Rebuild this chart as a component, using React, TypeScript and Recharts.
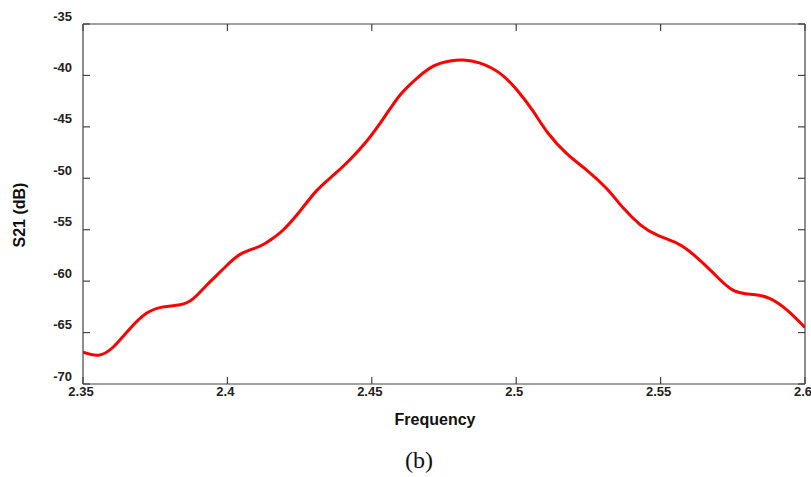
import React from 'react';
import { LineChart, Line, XAxis, YAxis } from 'recharts';

const freq = [
    2.35, 2.3553, 2.3605, 2.3663, 2.3721, 2.3778, 2.3836, 2.3882, 2.3928, 2.3986,
    2.4044, 2.4113, 2.4159, 2.4194, 2.4251, 2.4309, 2.4367, 2.4424, 2.4482, 2.454,
    2.4598, 2.4655, 2.4713, 2.4771, 2.4817, 2.4875, 2.4944, 2.5002, 2.5059, 2.511,
    2.5175, 2.5244, 2.5313, 2.5371, 2.5429, 2.5487, 2.5556, 2.5613, 2.5682, 2.5752,
    2.5821, 2.5879, 2.5937, 2.6,
];
const s21 = [
    -66.9, -67.2, -66.4, -64.6, -63.1, -62.5, -62.3, -61.7, -60.4, -58.8,
    -57.4, -56.6, -55.8, -55.0, -53.2, -51.2, -49.7, -48.2, -46.4, -44.2,
    -41.9, -40.3, -39.1, -38.6, -38.5, -38.8, -39.8, -41.4, -43.5, -45.6,
    -47.6, -49.2, -51.0, -52.9, -54.5, -55.5, -56.3, -57.4, -59.2, -60.9,
    -61.3, -61.7, -62.8, -64.5,
];
const xTicks = [2.35, 2.4, 2.45, 2.5, 2.55, 2.6];
const yTicks = [-70, -65, -60, -55, -50, -45, -40, -35];

const data = freq.map((f, i) => ({ f, v: s21[i] }));

const FONT = '"Liberation Sans", Arial, sans-serif';
const AXIS = '#444';
const TICK_LEN = 7;

// left axis: label sits a bit above the tick, tick mark points inward
const LeftTick = ({ x, y, payload }: any) => (
    <g>
        <text x={x} y={y - 8} dy="0.355em" textAnchor="end" fontFamily={FONT} fontWeight="bold" fontSize={13} fill="#222">
            {payload.value}
        </text>
        <line x1={x + 11} x2={x + 11 + TICK_LEN} y1={y} y2={y} stroke={AXIS} strokeWidth={1.2} />
    </g>
);

const RightTick = ({ x, y }: any) => (
    <line x1={x - TICK_LEN} x2={x} y1={y} y2={y} stroke={AXIS} strokeWidth={1.2} />
);

const BottomTick = ({ x, y, payload }: any) => (
    <g>
        <text x={x - 2} y={y} dy="0.71em" textAnchor="middle" fontFamily={FONT} fontWeight="bold" fontSize={13} fill="#222">
            {payload.value}
        </text>
        <line x1={x} x2={x} y1={y - 3} y2={y - 3 - TICK_LEN} stroke={AXIS} strokeWidth={1.2} />
    </g>
);

const TopTick = ({ x, y }: any) => (
    <line x1={x} x2={x} y1={y} y2={y + TICK_LEN} stroke={AXIS} strokeWidth={1.2} />
);

export default function App() {
    return (
        <div style={{ position: 'absolute', left: 0, top: 0, width: 811, height: 477, background: '#fff', overflow: 'hidden' }}>
            <LineChart width={811} height={477} data={data} margin={{ top: 23, right: 5, left: 33, bottom: 73 }}>
                <XAxis
                    dataKey="f"
                    type="number"
                    domain={[2.35, 2.6]}
                    ticks={xTicks}
                    allowDataOverflow
                    height={20}
                    tickSize={0}
                    tickMargin={3}
                    tick={<BottomTick />}
                    axisLine={{ stroke: AXIS, strokeWidth: 1.2 }}
                    interval={0}
                />
                <XAxis
                    xAxisId="top"
                    orientation="top"
                    dataKey="f"
                    type="number"
                    domain={[2.35, 2.6]}
                    ticks={xTicks}
                    allowDataOverflow
                    height={1}
                    tickSize={0}
                    tickMargin={0}
                    tick={<TopTick />}
                    axisLine={{ stroke: AXIS, strokeWidth: 1.2 }}
                    interval={0}
                />
                <YAxis
                    domain={[-70, -35]}
                    ticks={yTicks}
                    allowDataOverflow
                    width={50}
                    tickSize={0}
                    tickMargin={11}
                    tick={<LeftTick />}
                    axisLine={{ stroke: AXIS, strokeWidth: 1.2 }}
                    interval={0}
                />
                <YAxis
                    yAxisId="right"
                    orientation="right"
                    domain={[-70, -35]}
                    ticks={yTicks}
                    allowDataOverflow
                    width={1}
                    tickSize={0}
                    tickMargin={0}
                    tick={<RightTick />}
                    axisLine={{ stroke: AXIS, strokeWidth: 1.2 }}
                    interval={0}
                />
                {/* invisible series so the top and right frame axes get drawn */}
                <Line
                    xAxisId="top"
                    yAxisId="right"
                    dataKey="v"
                    stroke="none"
                    dot={false}
                    activeDot={false}
                    isAnimationActive={false}
                />
                <Line
                    dataKey="v"
                    type="natural"
                    stroke="#ff0000"
                    strokeWidth={3}
                    dot={false}
                    isAnimationActive={false}
                />
            </LineChart>
            <div style={{ position: 'absolute', left: 20, top: 215, transform: 'translate(-50%, -50%) rotate(-90deg)', fontFamily: FONT, fontWeight: 'bold', fontSize: 16, color: '#111', whiteSpace: 'nowrap' }}>
                S21 (dB)
            </div>
            <div style={{ position: 'absolute', left: 435, top: 420, transform: 'translate(-50%, -50%)', fontFamily: FONT, fontWeight: 'bold', fontSize: 16, color: '#111', whiteSpace: 'nowrap' }}>
                Frequency
            </div>
            <div style={{ position: 'absolute', left: 419, top: 447, transform: 'translateX(-50%)', fontFamily: '"Liberation Serif", "Times New Roman", serif', fontSize: 24, lineHeight: 'normal', color: '#111', whiteSpace: 'nowrap' }}>
                (b)
            </div>
        </div>
    );
}
